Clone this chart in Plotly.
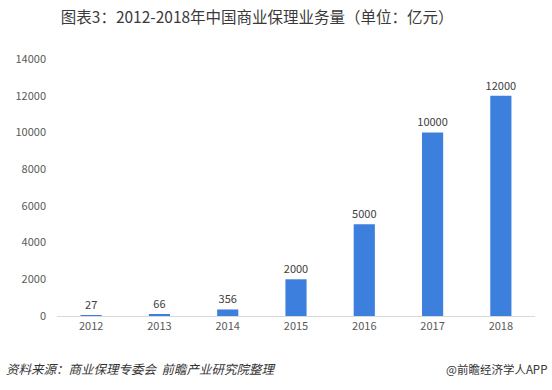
import plotly.graph_objects as go

years = ["2012", "2013", "2014", "2015", "2016", "2017", "2018"]
values = [27, 66, 356, 2000, 5000, 10000, 12000]
y_ticks = [0, 2000, 4000, 6000, 8000, 10000, 12000, 14000]
y_tick_labels = [str(v) for v in y_ticks]

title = "图表3：2012-2018年中国商业保理业务量（单位：亿元）"
source = "资料来源：商业保理专委会  前瞻产业研究院整理"
brand = "@前瞻经济学人APP"

font_family = "Noto Sans CJK SC, Microsoft YaHei, sans-serif"

fig = go.Figure(go.Bar(
    x=years, y=values,
    marker=dict(color="#3D7FDD", line=dict(width=0)),
    text=[str(v) for v in values],
    textposition="outside",
    constraintext="none",
    textfont=dict(size=11, color="#404040", family=font_family),
    cliponaxis=False,
    width=0.31,
))

fig.update_layout(
    width=552, height=390,
    margin=dict(l=57, r=17, t=59, b=74),
    paper_bgcolor="white", plot_bgcolor="white",
    showlegend=False,
    font=dict(family=font_family, size=11, color="#595959"),
    title=dict(text=title, x=0.466, xanchor="center", y=0.955, yanchor="middle",
               font=dict(size=15.5, color="#3A3A3A", family=font_family)),
    xaxis=dict(showgrid=False, showline=True, linecolor="#D9D9D9", linewidth=1,
               ticks="", tickfont=dict(size=11, color="#595959")),
    yaxis=dict(range=[0, 14000], tickvals=y_ticks, ticktext=y_tick_labels,
               showgrid=False, zeroline=False,
               showline=False, ticks="", ticklabelstandoff=10,
               tickfont=dict(size=11, color="#595959")),
    annotations=[
        dict(text="<i>" + source + "</i>", xref="paper", yref="paper", x=-0.11, y=-0.205,
             xanchor="left", yanchor="middle", showarrow=False,
             font=dict(size=12.5, color="#333333", family=font_family)),
        dict(text=brand, xref="paper", yref="paper", x=1.03, y=-0.205,
             xanchor="right", yanchor="middle", showarrow=False,
             font=dict(size=11.5, color="#333333", family=font_family)),
    ],
)

fig.write_html("out.html", config={"displayModeBar": False},
               post_script="document.body.style.margin='0';")
